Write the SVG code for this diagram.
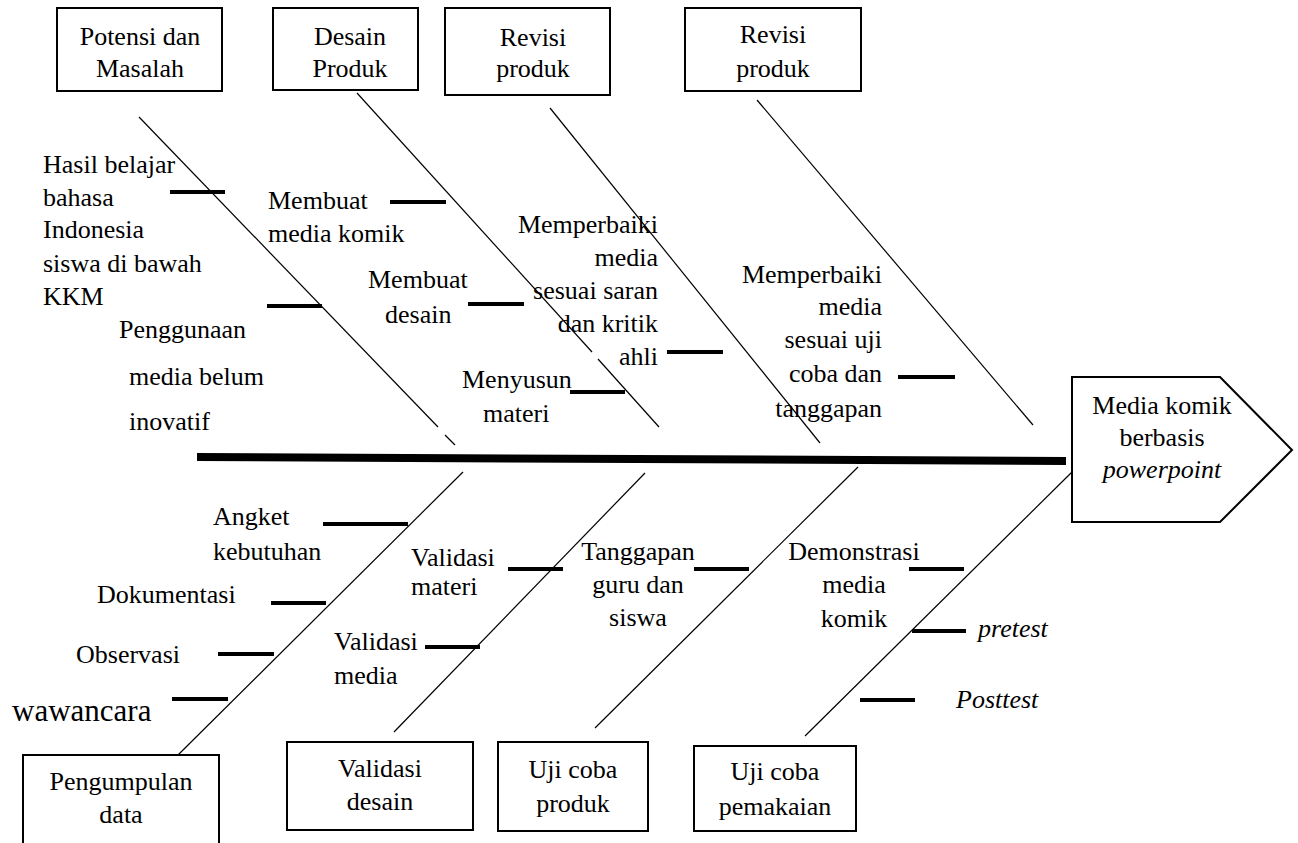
<svg xmlns="http://www.w3.org/2000/svg" width="1298" height="843" viewBox="0 0 1298 843" font-family="'Liberation Serif', 'Times New Roman', Times, 'DejaVu Serif', serif">
<style>
text{font-family:'Liberation Serif','Times New Roman',Times,'DejaVu Serif',serif;font-size:26px;fill:#000}
.c{text-anchor:middle}
.r{text-anchor:end}
.i{font-style:italic}
.box{fill:#fff;stroke:#000;stroke-width:2}
.bone{stroke:#000;stroke-width:1.2;fill:none}
.tick{stroke:#000;stroke-width:4}
.spine{stroke:#000;stroke-width:8}
</style>
<rect width="1298" height="843" fill="#fff"/>
<g id="connectors">
<line class="spine" x1="197" y1="457" x2="1066" y2="461"/>
<line class="bone" x1="139" y1="117" x2="438" y2="427"/>
<line class="bone" x1="445" y1="435" x2="455" y2="445"/>
<line class="bone" x1="357" y1="93" x2="592" y2="352"/>
<line class="bone" x1="598" y1="359" x2="659" y2="427"/>
<line class="bone" x1="550" y1="108" x2="820" y2="443"/>
<line class="bone" x1="757" y1="100" x2="1033" y2="425"/>
<line class="bone" x1="463" y1="472" x2="178" y2="755"/>
<line class="bone" x1="645" y1="473" x2="394" y2="732"/>
<line class="bone" x1="858" y1="467" x2="595" y2="728"/>
<line class="bone" x1="1072" y1="472" x2="805" y2="736"/>
<line class="tick" x1="170" y1="192" x2="225" y2="192"/>
<line class="tick" x1="390" y1="202" x2="446" y2="202"/>
<line class="tick" x1="267" y1="306" x2="322" y2="306"/>
<line class="tick" x1="468" y1="304" x2="524" y2="304"/>
<line class="tick" x1="667" y1="352" x2="723" y2="352"/>
<line class="tick" x1="570" y1="392" x2="625" y2="392"/>
<line class="tick" x1="898" y1="377" x2="955" y2="377"/>
<line class="tick" x1="323" y1="524" x2="408" y2="524"/>
<line class="tick" x1="271" y1="603" x2="326" y2="603"/>
<line class="tick" x1="218" y1="654" x2="274" y2="654"/>
<line class="tick" x1="172" y1="699" x2="228" y2="699"/>
<line class="tick" x1="508" y1="569" x2="563" y2="569"/>
<line class="tick" x1="425" y1="647" x2="480" y2="647"/>
<line class="tick" x1="694" y1="569" x2="749" y2="569"/>
<line class="tick" x1="909" y1="569" x2="964" y2="569"/>
<line class="tick" x1="912" y1="631" x2="966" y2="631"/>
<line class="tick" x1="860" y1="700" x2="915" y2="700"/>
</g>
<g id="potensi">
<rect class="box" x="57" y="8" width="165" height="83"/>
<text class="c" x="140" y="45">Potensi dan</text>
<text class="c" x="140" y="77">Masalah</text>
</g>
<g id="desain-produk">
<rect class="box" x="273" y="8" width="145" height="82"/>
<text class="c" x="350" y="45">Desain</text>
<text class="c" x="350" y="77">Produk</text>
</g>
<g id="revisi1">
<rect class="box" x="445" y="8" width="165" height="87"/>
<text class="c" x="533" y="46">Revisi</text>
<text class="c" x="533" y="77">produk</text>
</g>
<g id="revisi2">
<rect class="box" x="685" y="8" width="176" height="83"/>
<text class="c" x="773" y="43">Revisi</text>
<text class="c" x="773" y="77">produk</text>
</g>
<g id="hasil">
<text x="43" y="173">Hasil belajar</text>
<text x="43" y="206">bahasa</text>
<text x="43" y="238">Indonesia</text>
<text x="43" y="272">siswa di bawah</text>
<text x="43" y="305">KKM</text>
</g>
<g id="penggunaan">
<text x="119" y="338">Penggunaan</text>
<text x="129" y="385">media belum</text>
<text x="129" y="430">inovatif</text>
</g>
<g id="membuat-media">
<text x="268" y="209">Membuat</text>
<text x="268" y="242">media komik</text>
</g>
<g id="membuat-desain">
<text x="368" y="288">Membuat</text>
<text x="385" y="323">desain</text>
</g>
<g id="menyusun">
<text x="462" y="388">Menyusun</text>
<text x="483" y="422">materi</text>
</g>
<g id="memperbaiki1">
<text class="r" x="658" y="233">Memperbaiki</text>
<text class="r" x="658" y="266">media</text>
<text class="r" x="658" y="299">sesuai saran</text>
<text class="r" x="658" y="332">dan kritik</text>
<text class="r" x="658" y="365">ahli</text>
</g>
<g id="memperbaiki2">
<text class="r" x="882" y="283">Memperbaiki</text>
<text class="r" x="882" y="315">media</text>
<text class="r" x="882" y="348">sesuai uji</text>
<text class="r" x="882" y="382">coba dan</text>
<text class="r" x="882" y="417">tanggapan</text>
</g>
<g id="head">
<path class="box" d="M1072,377 L1220,377 L1292,450 L1220,522 L1072,522 Z"/>
<text class="c" x="1162" y="414">Media komik</text>
<text class="c" x="1162" y="446">berbasis</text>
<text class="c i" x="1162" y="478">powerpoint</text>
</g>
<g id="angket">
<text x="213" y="525">Angket</text>
<text x="213" y="560">kebutuhan</text>
</g>
<g id="dokumentasi"><text x="97" y="603">Dokumentasi</text></g>
<g id="observasi"><text x="76" y="663">Observasi</text></g>
<g id="wawancara"><text x="12" y="721" style="font-size:31px">wawancara</text></g>
<g id="validasi-materi">
<text x="411" y="566">Validasi</text>
<text x="411" y="595">materi</text>
</g>
<g id="validasi-media">
<text x="334" y="650">Validasi</text>
<text x="334" y="684">media</text>
</g>
<g id="tanggapan">
<text class="c" x="638" y="560">Tanggapan</text>
<text class="c" x="638" y="593">guru dan</text>
<text class="c" x="638" y="626">siswa</text>
</g>
<g id="demonstrasi">
<text class="c" x="854" y="560">Demonstrasi</text>
<text class="c" x="854" y="593">media</text>
<text class="c" x="854" y="627">komik</text>
</g>
<g id="pretest"><text class="i" x="978" y="637">pretest</text></g>
<g id="posttest"><text class="i" x="956" y="708">Posttest</text></g>
<g id="pengumpulan">
<rect class="box" x="23" y="755" width="196" height="100"/>
<text class="c" x="121" y="790">Pengumpulan</text>
<text class="c" x="121" y="823">data</text>
</g>
<g id="validasi-desain">
<rect class="box" x="287" y="742" width="186" height="88"/>
<text class="c" x="380" y="777">Validasi</text>
<text class="c" x="380" y="810">desain</text>
</g>
<g id="uji-produk">
<rect class="box" x="498" y="742" width="150" height="89"/>
<text class="c" x="573" y="778">Uji coba</text>
<text class="c" x="573" y="812">produk</text>
</g>
<g id="uji-pemakaian">
<rect class="box" x="694" y="746" width="162" height="85"/>
<text class="c" x="775" y="780">Uji coba</text>
<text class="c" x="775" y="815">pemakaian</text>
</g>
</svg>
